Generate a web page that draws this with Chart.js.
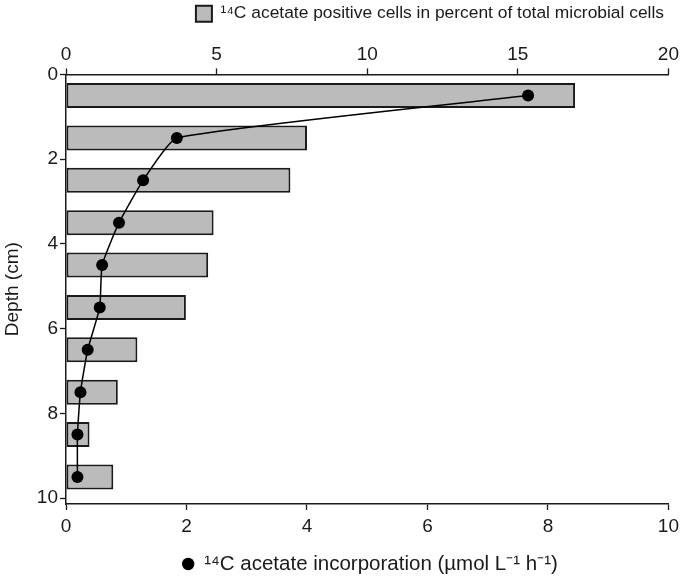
<!DOCTYPE html>
<html>
<head>
<meta charset="utf-8">
<script src="https://cdn.jsdelivr.net/npm/chart.js@4.4.0/dist/chart.umd.min.js"></script>
<style>
  html, body { margin: 0; padding: 0; background: #fff; }
  #wrap { width: 684px; height: 580px; }
</style>
</head>
<body>
<div id="wrap"><canvas id="chart" width="684" height="580"></canvas></div>
<script>
const depths = [0.5, 1.5, 2.5, 3.5, 4.5, 5.5, 6.5, 7.5, 8.5, 9.5]
const positiveCells = [16.9, 8.0, 7.45, 4.9, 4.72, 3.98, 2.37, 1.72, 0.78, 1.57]
const incorporation = [7.67, 1.84, 1.28, 0.88, 0.60, 0.56, 0.36, 0.24, 0.19, 0.19]
const depthTicks = [0, 2, 4, 6, 8, 10]
const percentTicks = [0, 5, 10, 15, 20]
const rateTicks = [0, 2, 4, 6, 8, 10]

const barLabel = '¹⁴C acetate positive cells in percent of total microbial cells'
const lineLabel = '¹⁴C acetate incorporation (µmol L⁻¹ h⁻¹)'

const fontFamily = '"Liberation Sans", Arial, sans-serif'
const barColor = 'rgb(187, 187, 187)'
const ink = '#1a1a1a'

function fixedTicks(values) {
    return (scale) => { scale.ticks = values.map(v => ({ value: v })) }
}

// bottom legend: black dot + text, drawn under the lower axis
const bottomLegend = {
    id: 'bottomLegend',
    afterDraw(chart) {
        const ctx = chart.ctx
        ctx.save()
        ctx.font = '20.5px ' + fontFamily
        const textWidth = ctx.measureText(lineLabel).width
        const total = 12 + 10 + textWidth
        const startX = 370 - total / 2
        const y = 564
        ctx.fillStyle = '#000'
        ctx.beginPath()
        ctx.arc(startX + 6, y, 6.2, 0, Math.PI * 2)
        ctx.fill()
        ctx.fillStyle = ink
        ctx.textBaseline = 'middle'
        ctx.fillText(lineLabel, startX + 22, y)
        ctx.restore()
    }
}

const axisCommon = {
    type: 'linear',
    offset: false,
    grid: { drawOnChartArea: false, offset: false, color: ink, tickLength: 6, tickWidth: 1.3 },
    border: { color: ink, width: 1.5 },
    ticks: { color: ink, font: { size: 19, family: fontFamily }, padding: 2 }
}

new Chart(document.getElementById('chart'), {
    data: {
        datasets: [
            {
                type: 'bar',
                label: barLabel,
                indexAxis: 'y',
                xAxisID: 'xTop',
                yAxisID: 'y',
                data: depths.map((d, i) => ({ x: positiveCells[i], y: d })),
                backgroundColor: barColor,
                borderColor: ink,
                borderWidth: 2,
                borderSkipped: false,
                grouped: false,
                categoryPercentage: 1,
                barPercentage: 0.59,
                order: 2
            },
            {
                type: 'line',
                label: lineLabel,
                xAxisID: 'x',
                yAxisID: 'y',
                data: depths.map((d, i) => ({ x: incorporation[i], y: d })),
                borderColor: '#000',
                borderWidth: 1.5,
                backgroundColor: '#000',
                pointRadius: 6,
                pointBackgroundColor: '#000',
                pointBorderWidth: 0,
                tension: 0.15,
                order: 1
            }
        ]
    },
    options: {
        responsive: false,
        animation: false,
        layout: { padding: { left: 0, right: 15, top: 0, bottom: 0 } },
        plugins: {
            legend: {
                position: 'top',
                align: 'end',
                labels: {
                    filter: item => item.datasetIndex === 0,
                    color: ink,
                    font: { size: 17.4, family: fontFamily },
                    boxWidth: 16,
                    boxHeight: 16,
                    padding: 5
                }
            },
            tooltip: { enabled: false }
        },
        scales: {
            y: {
                ...axisCommon,
                position: 'left',
                reverse: true,
                min: 0,
                max: 10.14,
                afterBuildTicks: fixedTicks(depthTicks),
                afterFit: (scale) => { scale.width = 66 },
                title: { display: true, text: 'Depth (cm)', color: ink, font: { size: 19, family: fontFamily }, padding: { top: 1, bottom: 4 } }
            },
            xTop: {
                ...axisCommon,
                position: 'top',
                min: 0,
                max: 20,
                afterBuildTicks: fixedTicks(percentTicks),
                afterFit: (scale) => { scale.height = 42 }
            },
            x: {
                ...axisCommon,
                position: 'bottom',
                min: 0,
                max: 10,
                ticks: { ...axisCommon.ticks, padding: 5 },
                afterBuildTicks: fixedTicks(rateTicks),
                afterFit: (scale) => { scale.height = 76 }
            }
        }
    },
    plugins: [bottomLegend]
})
</script>
</body>
</html>
